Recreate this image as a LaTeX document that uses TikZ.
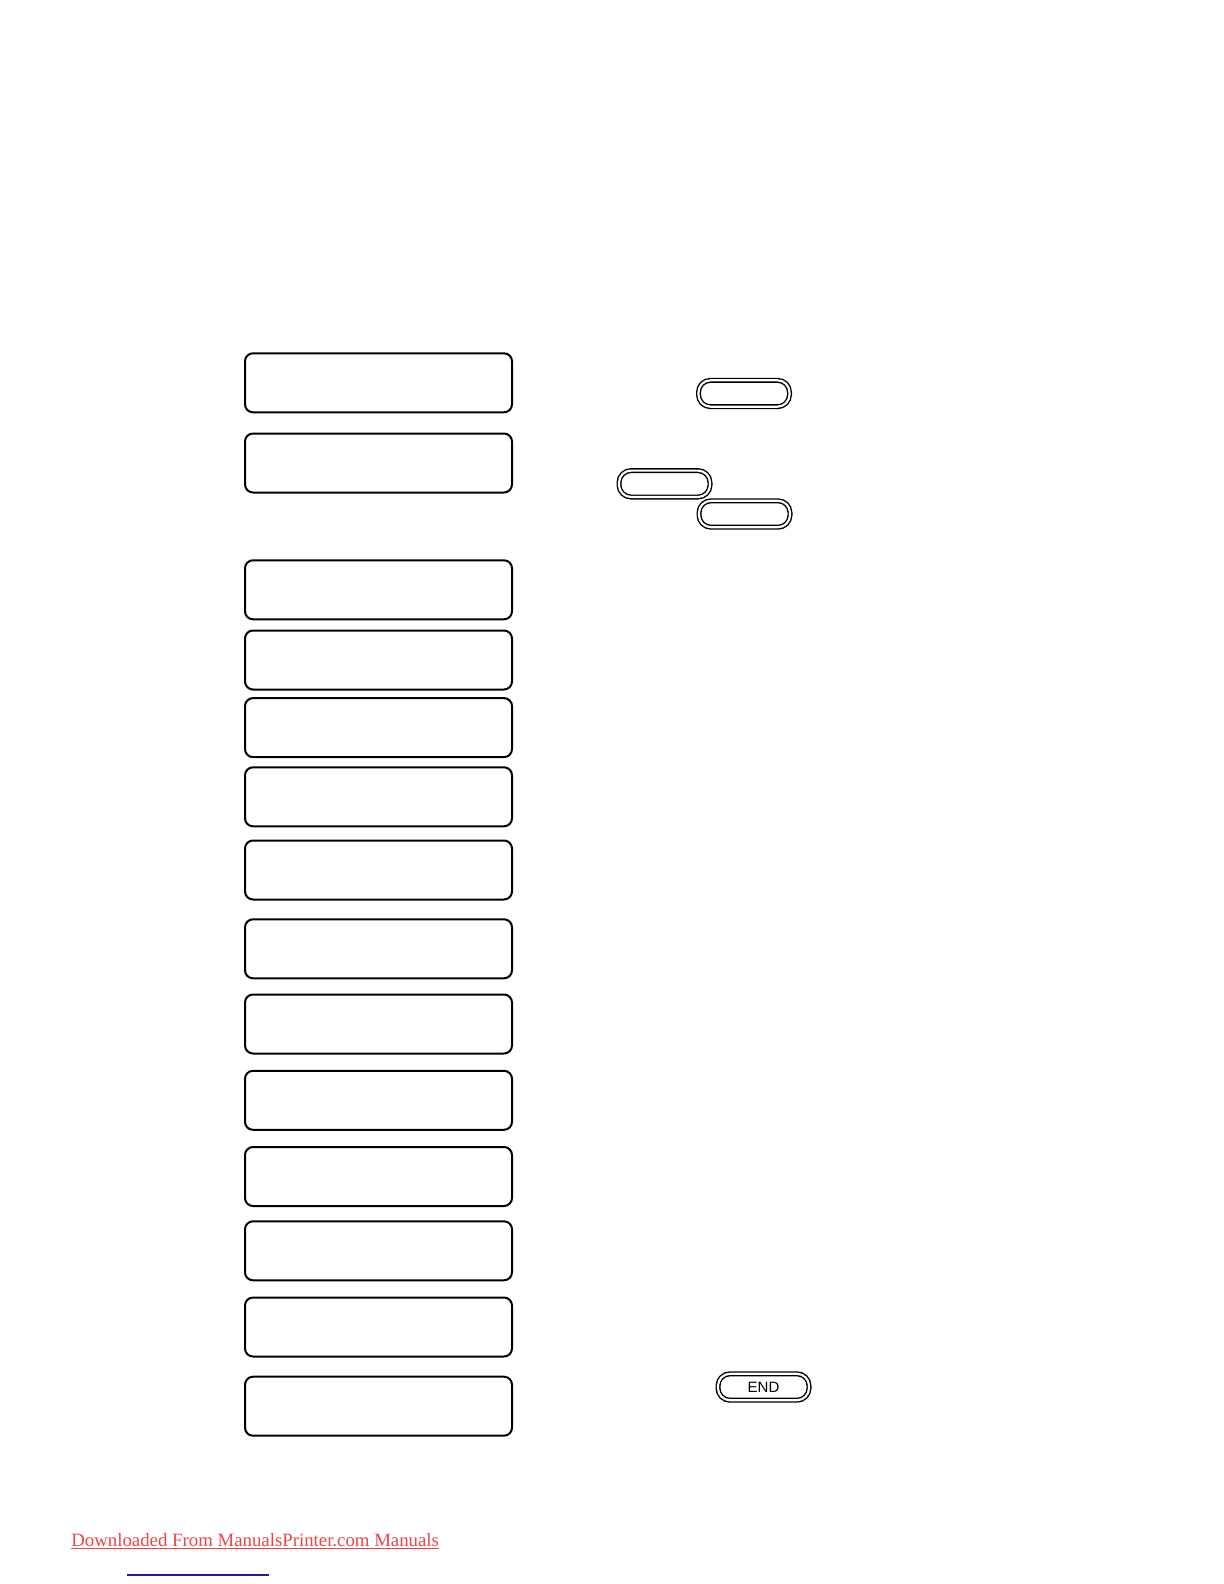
\documentclass[tikz,border=0pt]{standalone}
\usepackage{fontspec}
\setmainfont{Liberation Serif}
\newfontfamily\btnfont{Liberation Sans}
\definecolor{linkred}{rgb}{0.93,0.27,0.27}
\definecolor{linkblue}{rgb}{0.12,0.12,0.55}
\begin{document}
\begin{tikzpicture}[x=0.5pt,y=-0.5pt,
  lcd/.style={draw=black, line width=1pt, rounded corners=4pt, minimum width=133.5pt, minimum height=29.5pt, inner sep=0pt},
  btn/.style={draw=black, line width=0.7pt, double=white, double distance=1.1pt, rounded corners=6pt, minimum width=45.5pt, minimum height=13.2pt, inner sep=0pt, font=\btnfont\fontsize{7.5}{8}\selectfont}
]
\useasboundingbox (0,0) rectangle (1224,1584);
% display boxes
\node[lcd] (b1) at (378.5,382.8) {};
\node[lcd] (b2) at (378.5,463.0) {};
\node[lcd] (b3) at (378.5,589.8) {};
\node[lcd] (b4) at (378.5,660.0) {};
\node[lcd] (b5) at (378.5,727.6) {};
\node[lcd] (b6) at (378.5,796.8) {};
\node[lcd] (b7) at (378.5,870.0) {};
\node[lcd] (b8) at (378.5,948.8) {};
\node[lcd] (b9) at (378.5,1024.0) {};
\node[lcd] (b10) at (378.5,1100.3) {};
\node[lcd] (b11) at (378.5,1176.5) {};
\node[lcd] (b12) at (378.5,1250.8) {};
\node[lcd] (b13) at (378.5,1327.0) {};
\node[lcd] (b14) at (378.5,1406.2) {};
% key buttons
\node[btn] (k1) at (744.0,393.5) {};
\node[btn] (k2) at (664.5,483.8) {};
\node[btn] (k3) at (744.5,514.0) {};
\node[btn] (kend) at (763.5,1387.0) {END};
% footer
\node[anchor=base west, inner sep=0pt, text=linkred, font=\fontsize{9.4}{11}\selectfont] (foot) at (71,1546) {Downloaded From ManualsPrinter.com Manuals};
\draw[linkred, line width=0.5pt] ([yshift=-1.2pt]foot.base west) -- ([yshift=-1.2pt]foot.base east);
\coordinate (bl1) at (127,1575);
\coordinate (bl2) at (269,1575);
\draw[linkblue, line width=0.6pt] (bl1) -- (bl2);
\end{tikzpicture}
\end{document}
